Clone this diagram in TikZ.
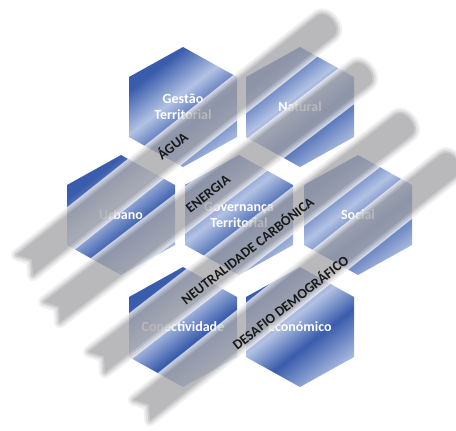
\documentclass[tikz,border=0pt]{standalone}
\usepackage{fontspec}
\setmainfont{Carlito}
\definecolor{hd}{RGB}{58,92,172}
\definecolor{hl}{RGB}{178,194,228}
\definecolor{bandc}{RGB}{165,165,168}
\pgfdeclarehorizontalshading{hexsh}{100bp}{color(0bp)=(hd); color(30bp)=(hd); color(45bp)=(hl); color(58bp)=(hd); color(76bp)=(hl); color(100bp)=(hl)}
\tikzset{
  hexfill/.style={shading=hexsh, shading angle=-52},
  hexlabel/.style={text=white, font=\bfseries\fontsize{14}{16}\selectfont, align=center, inner sep=0pt},
  bandlabel/.style={text=black!90, font=\bfseries\fontsize{14}{15}\selectfont, rotate=38, inner sep=0pt},
}
\newcommand{\hexat}[4]{%
  \path[hexfill] (#2,#3) ++(0,-60) -- ++(54,30) -- ++(0,60) -- ++(-54,30) -- ++(-54,-30) -- ++(0,-60) -- cycle;
  \node[hexlabel] (#1) at (#2,#3) {#4};}
\newcommand{\bandpath}[1]{(0,-13) -- (#1-12,-13) .. controls (#1,-13) and (#1,13) .. (#1-12,13) -- (0,13) -- (9,0) -- cycle}
\newcommand{\bandat}[4]{%
  \begin{scope}[shift={(#1,#2)}, rotate=#3, transparency group, opacity=0.78]
    \draw[line width=12pt, draw=bandc!20!white, line join=round] \bandpath{#4};
    \draw[line width=8pt, draw=bandc!45!white, line join=round] \bandpath{#4};
    \draw[line width=4pt, draw=bandc!75!white, line join=round] \bandpath{#4};
    \fill[bandc] \bandpath{#4};
  \end{scope}}
\begin{document}
\begin{tikzpicture}[x=1pt,y=-1pt]
\useasboundingbox (0,0) rectangle (456,431);
\hexat{gestao}{183}{107}{Gestão\\Territorial}
\hexat{natural}{300}{107}{Natural}
\hexat{urbano}{121}{215}{Urbano}
\hexat{governanca}{239}{215}{Governança\\Territorial}
\hexat{social}{358}{215}{Social}
\hexat{conect}{183}{327}{Conectividade}
\hexat{economico}{300}{327}{Económico}
\bandat{25}{265}{38.5}{396}
\bandat{52}{312}{37.5}{402}
\bandat{97}{362}{37.7}{399}
\bandat{142}{410}{38.6}{405}
\node[bandlabel] (agua) at (172,145) {ÁGUA};
\node[bandlabel] (energia) at (208,194) {ENERGIA};
\node[bandlabel] (neutral) at (247,250) {NEUTRALIDADE CARBÓNICA};
\node[bandlabel] (desafio) at (290,302) {DESAFIO DEMOGRÁFICO};
\end{tikzpicture}
\end{document}
